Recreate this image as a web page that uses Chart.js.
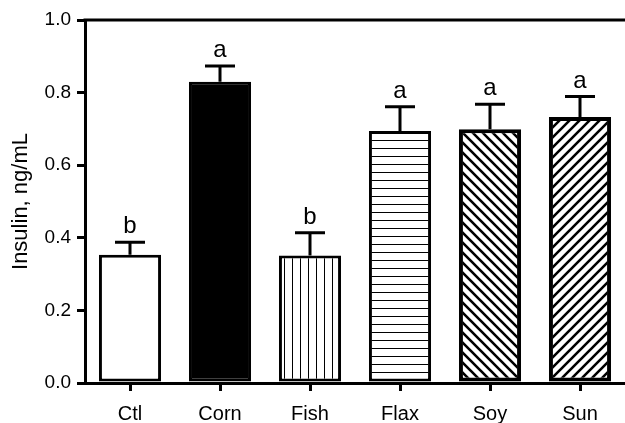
<!DOCTYPE html>
<html>
<head>
<meta charset="utf-8">
<script src="https://cdn.jsdelivr.net/npm/chart.js@4"></script>
<style>
  html, body { margin: 0; padding: 0; background: #fff; }
  canvas { display: block; }
</style>
</head>
<body>
<canvas id="chart" width="625" height="423"></canvas>
<script>
const categories = ["Ctl", "Corn", "Fish", "Flax", "Soy", "Sun"];
const insulin = [0.353, 0.830, 0.351, 0.694, 0.699, 0.733];
const errorTop = [0.388, 0.873, 0.414, 0.761, 0.768, 0.789];
const letters = ["b", "a", "b", "a", "a", "a"];
const yTicks = [0, 0.2, 0.4, 0.6, 0.8, 1.0];

const FONT = "'Liberation Sans', Arial, sans-serif";

function makePattern(kind) {
  const size = kind === "vert" || kind === "horiz" ? 8 : 10;
  const c = document.createElement("canvas");
  c.width = size;
  c.height = size;
  const g = c.getContext("2d");
  g.fillStyle = "#fff";
  g.fillRect(0, 0, size, size);
  g.fillStyle = "#000";
  g.strokeStyle = "#000";
  if (kind === "vert") {
    g.fillRect(4, 0, 1, size);
  } else if (kind === "horiz") {
    g.fillRect(0, 4, size, 1);
  } else {
    g.lineWidth = 2.6;
    g.beginPath();
    if (kind === "back") {
      g.moveTo(-2, -2); g.lineTo(size + 2, size + 2);
      g.moveTo(-2, size - 2); g.lineTo(2, size + 2);
      g.moveTo(size - 2, -2); g.lineTo(size + 2, 2);
    } else {
      g.moveTo(-2, size + 2); g.lineTo(size + 2, -2);
      g.moveTo(-2, 2); g.lineTo(2, -2);
      g.moveTo(size - 2, size + 2); g.lineTo(size + 2, size - 2);
    }
    g.stroke();
  }
  return g.createPattern(c, "repeat");
}

const fills = ["#fff", "#000", makePattern("vert"), makePattern("horiz"), makePattern("back"), makePattern("fwd")];
const borders = [3, 3, 3, 3, 4, 4];

const extras = {
  id: "extras",
  afterDatasetsDraw(chart) {
    const ctx = chart.ctx;
    const y = chart.scales.y;
    const bars = chart.getDatasetMeta(0).data;
    ctx.save();
    ctx.strokeStyle = "#000";
    ctx.fillStyle = "#000";
    ctx.lineWidth = 3;
    ctx.font = "24px " + FONT;
    ctx.textAlign = "center";
    ctx.textBaseline = "alphabetic";
    bars.forEach((bar, i) => {
      const yv = y.getPixelForValue(insulin[i]);
      const ye = y.getPixelForValue(errorTop[i]);
      ctx.beginPath();
      ctx.moveTo(bar.x, yv);
      ctx.lineTo(bar.x, ye);
      ctx.moveTo(bar.x - 15, ye);
      ctx.lineTo(bar.x + 15, ye);
      ctx.stroke();
      ctx.fillText(letters[i], bar.x, ye - 9);
    });
    // top frame line
    const a = chart.chartArea;
    ctx.beginPath();
    ctx.moveTo(a.left - 1.5, a.top);
    ctx.lineTo(chart.width, a.top);
    ctx.stroke();
    ctx.restore();
  },
};

new Chart(document.getElementById("chart").getContext("2d"), {
  type: "bar",
  data: {
    labels: categories,
    datasets: [{
      data: insulin,
      backgroundColor: fills,
      borderColor: "#000",
      borderWidth: borders,
      borderSkipped: false,
      barPercentage: 0.69,
      categoryPercentage: 1,
    }],
  },
  options: {
    responsive: false,
    animation: false,
    devicePixelRatio: 1,
    layout: { padding: { top: 20, right: 0, bottom: 0, left: 0 } },
    plugins: {
      legend: { display: false },
      tooltip: { enabled: false },
    },
    scales: {
      x: {
        grid: { display: true, drawOnChartArea: false, drawTicks: true, tickLength: 8, lineWidth: 3, color: "#000", offset: false },
        border: { display: true, width: 3, color: "#000" },
        ticks: { color: "#000", padding: 11, font: { family: FONT, size: 20 } },
        afterFit(axis) { axis.height = 40; },
      },
      y: {
        min: 0,
        max: 1,
        afterBuildTicks(axis) { axis.ticks = yTicks.map((v) => ({ value: v })); },
        grid: { display: true, drawOnChartArea: false, drawTicks: true, tickLength: 8, lineWidth: 3, color: "#000" },
        border: { display: true, width: 3, color: "#000" },
        ticks: {
          color: "#000",
          padding: 6,
          font: { family: FONT, size: 19 },
          callback: (v) => Number(v).toFixed(1),
        },
        title: {
          display: true,
          text: "Insulin, ng/mL",
          color: "#000",
          font: { family: FONT, size: 22 },
          padding: { top: 8, bottom: 0 },
        },
        afterFit(axis) { axis.width = 85; },
      },
    },
  },
  plugins: [extras],
});
</script>
</body>
</html>
